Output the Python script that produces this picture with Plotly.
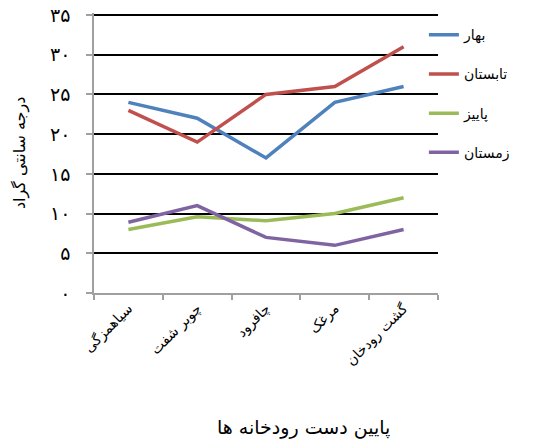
import plotly.graph_objects as go

categories = ["سیاهمزگی", "چوبر شفت", "چافرود", "مرغک", "گشت رودخان"]
series_names = ["بهار", "تابستان", "پاییز", "زمستان"]
spring = [24, 22, 17, 24, 26]
summer = [23, 19, 25, 26, 31]
autumn = [8, 9.6, 9.1, 10, 12]
winter = [8.9, 11, 7, 6, 8]
y_tick_vals = [0, 5, 10, 15, 20, 25, 30, 35]
y_tick_text = ["۰", "۵", "۱۰", "۱۵", "۲۰", "۲۵", "۳۰", "۳۵"]
colors = ["#4F81BD", "#C0504D", "#9BBB59", "#8064A2"]
x_title = "پایین دست رودخانه ها"
y_title = "درجه سانتی گراد"

font_family = "DejaVu Sans"

fig = go.Figure()
for i, (name, vals) in enumerate(zip(series_names, [spring, summer, autumn, winter])):
    fig.add_trace(go.Scatter(
        x=categories, y=vals, mode="lines", name=name,
        line=dict(color=colors[i], width=3.5),
        legendgroup=str(i),
    ))

fig.update_layout(
    width=549, height=443,
    margin=dict(l=94, r=111, t=13, b=150),
    paper_bgcolor="white", plot_bgcolor="white",
    font=dict(family=font_family, color="black", size=13),
    showlegend=True,
    legend=dict(x=0.959, y=0.978, xanchor="left", yanchor="top",
                tracegroupgap=18, font=dict(size=14),
                traceorder="grouped", bgcolor="rgba(0,0,0,0)"),
    xaxis=dict(
        type="category", range=[-0.5, 4.5], automargin=False,
        tickson="boundaries", ticks="outside", ticklen=5,
        tickcolor="#A0A0A0", tickwidth=1.5,
        showline=True, linecolor="#A0A0A0", linewidth=1.5,
        showgrid=False, tickangle=-45, tickfont=dict(size=14),
    ),
    yaxis=dict(
        range=[0, 35.25], tickvals=y_tick_vals, ticktext=y_tick_text,
        automargin=False, ticklabeloverflow="allow",
        ticks="outside", ticklen=6, tickcolor="#A0A0A0", tickwidth=1.5,
        ticklabelstandoff=12,
        showline=True, linecolor="#A0A0A0", linewidth=1.5,
        showgrid=True, gridcolor="black", gridwidth=2, zeroline=False,
        tickfont=dict(size=19),
    ),
    annotations=[
        dict(text=x_title, xref="paper", yref="paper", x=0.61, y=-0.482,
             showarrow=False, font=dict(size=19), xanchor="center", yanchor="middle"),
        dict(text=y_title, xref="paper", yref="paper", x=-0.215, y=0.5,
             showarrow=False, textangle=-90, font=dict(size=16),
             xanchor="center", yanchor="middle"),
    ],
)

fig.write_html("out.html", config={"displayModeBar": False},
               post_script="document.body.style.margin='0';")
